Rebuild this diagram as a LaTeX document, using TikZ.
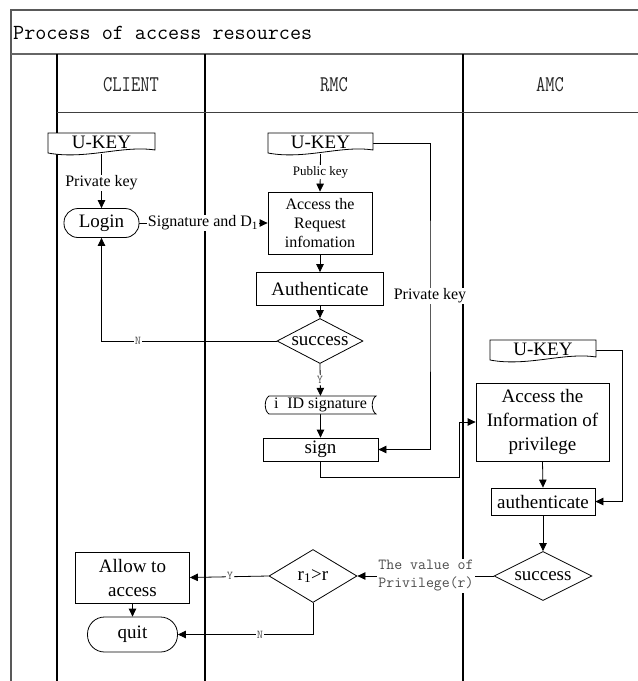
\documentclass[tikz,border=0pt]{standalone}
\usepackage{fontspec}
\setmainfont{Liberation Serif}
\usetikzlibrary{arrows.meta,shapes.geometric,backgrounds}
\newcommand\ukeydoc[5]{% name, l, t, r, b
  \draw[ln, fill=white] (#2,#3) -- (#4,#3) -- (#4,{#5-4})
    .. controls ({#2+0.7*(#4-#2)},{#5-9}) and ({#2+0.35*(#4-#2)},{#5+6}) .. (#2,{#5-1}) -- cycle;
  \node[minimum width={#4-#2}, minimum height={#5-#3}] (#1) at ({(#2+#4)/2},{(#3+#5)/2}) {\raisebox{1.5pt}{U-KEY}};
}
\begin{document}
\begin{tikzpicture}[x=1pt,y=-1pt,
  every node/.style={font=\fontsize{19}{24}\selectfont, inner sep=0pt},
  ln/.style={line width=0.8pt},
  arr/.style={ln, -{Triangle[length=8pt,width=7.5pt]}},
  box/.style={draw, ln, rectangle, align=center, fill=white},
  term/.style={draw, ln, rectangle, fill=white},
  dia/.style={draw, ln, diamond, fill=white},
  lbl/.style={fill=white, inner sep=1pt},
  hdr/.style={font=\ttfamily\fontsize{18}{20}\selectfont, text=black!85},
  valfont/.style={font=\ttfamily\fontsize{15.4}{18}\selectfont, text=black!70, align=left, fill=white, inner sep=1pt},
  yn/.style={font=\ttfamily\fontsize{12}{13}\selectfont, text=black!65, fill=white, inner sep=1pt},
  lane/.style={line width=1.1pt},
]
\useasboundingbox (0,0) rectangle (638,681);
% frame and lanes
\draw[line width=1.6pt, black!65] (11,681) -- (11,10) -- (638,10);
\draw[line width=1.8pt, black!60] (11,54) -- (638,54);
\draw[lane] (57,54) -- (57,681);
\draw[lane] (205,54) -- (205,681);
\draw[lane] (463,54) -- (463,681);
\draw[line width=1pt, black!75] (57,112) -- (638,112);
% title and headers
\node[anchor=west, font=\ttfamily\fontsize{21.5}{24}\selectfont] (title) at (13,33) {Process of access resources};
\node[hdr] (hclient) at (131,85) {\scalebox{1}[1.25]{CLIENT}};
\node[hdr] (hrmc) at (334,85) {\scalebox{1}[1.25]{RMC}};
\node[hdr] (hamc) at (550,85) {\scalebox{1}[1.25]{AMC}};
% CLIENT lane
\ukeydoc{ck}{48}{133}{155}{154}
\node[term, rounded corners=14pt, minimum width=75pt, minimum height=29pt] (login) at (101.5,223) {Login};
\node[box, minimum width=114pt, minimum height=51pt] (allow) at (132.5,577.5) {Allow to\\access};
\node[term, rounded corners=17pt, minimum width=90pt, minimum height=35pt] (quit) at (132.5,634.5) {quit};
% RMC lane
\ukeydoc{rk}{268}{133}{373}{154}
\node[box, minimum width=104pt, minimum height=62pt, font=\fontsize{16}{19}\selectfont] (areq) at (320,223) {Access the\\Request\\infomation};
\node[box, minimum width=127pt, minimum height=33pt] (auth) at (320,289) {Authenticate};
\node[dia, minimum width=86pt, minimum height=45pt, label={center:success}] (s1) at (320,341) {};
\draw[ln, fill=white] (269,396) -- (376,396) .. controls (371,399) and (371,411) .. (376,414) -- (269,414) .. controls (264,411) and (264,399) .. (269,396) -- cycle;
\node[minimum width=111pt, minimum height=18pt, font=\fontsize{16}{18}\selectfont] (iid) at (320.5,405) {i\hspace{0.55em}ID signature};
\node[box, minimum width=115pt, minimum height=23pt] (sign) at (320.5,449.5) {sign};
\node[dia, minimum width=88pt, minimum height=53pt, label={center:{r\textsubscript{1}>r}}] (rr) at (313,576) {};
% AMC lane
\ukeydoc{ak}{490}{340}{596}{361}
\node[box, minimum width=133pt, minimum height=78pt] (ainfo) at (542.5,422) {Access the\\Information of\\privilege};
\node[box, minimum width=104pt, minimum height=27pt] (aauth) at (543,501.5) {authenticate};
\node[dia, minimum width=98pt, minimum height=49pt, label={center:success}] (s2) at (543,576) {};
% labels on connectors
\node[lbl, font=\fontsize{16}{18}\selectfont] (pk1) at (101.5,183) {Private key};
\node[lbl, font=\fontsize{13}{15}\selectfont] (pub) at (320.5,172) {Public key};
\node[lbl, font=\fontsize{16}{18}\selectfont] (sig) at (203,223) {Signature and D\textsubscript{1}};
\node[lbl, font=\fontsize{16}{18}\selectfont] (pk2) at (430,296) {Private key};
\node[yn] (n1) at (138,341) {N};
\node[yn] (y1) at (320,380) {Y};
\node[valfont] (val) at (426,576) {The value of\\Privilege(r)};
\node[yn] (y2) at (230,576) {Y};
\node[yn] (n2) at (260,634.5) {N};
\coordinate (j1) at (459,477);
\coordinate (j2) at (622,501.5);
% connectors
\begin{pgfonlayer}{background}
\draw[arr] (ck.south) -- (login.north);
\draw[arr] (login.east) -- (areq.west);
\draw[arr] (rk.south) -- (areq.north);
\draw[arr] (areq.south) -- (auth.north);
\draw[arr] (auth.south) -- (s1.north);
\draw[arr] (s1.west) -| (login.south);
\draw[arr] (s1.south) -- (iid.north);
\draw[arr] (iid.south) -- (sign.north);
\draw[arr] (rk.east) -| (pk2.center) |- (sign.east);
\draw[arr] (sign.south) |- (j1) |- (ainfo.west);
\draw[arr] (ak.east) -| (j2) -- (aauth.east);
\draw[arr] (ainfo.south) -- (aauth.north);
\draw[arr] (aauth.south) -- (s2.north);
\draw[arr] (s2.west) -- (rr.east);
\draw[arr] (rr.west) -- (allow.east);
\draw[arr] (allow.south) -- (quit.north);
\draw[arr] (rr.south) |- (quit.east);
\end{pgfonlayer}
\end{tikzpicture}
\end{document}
